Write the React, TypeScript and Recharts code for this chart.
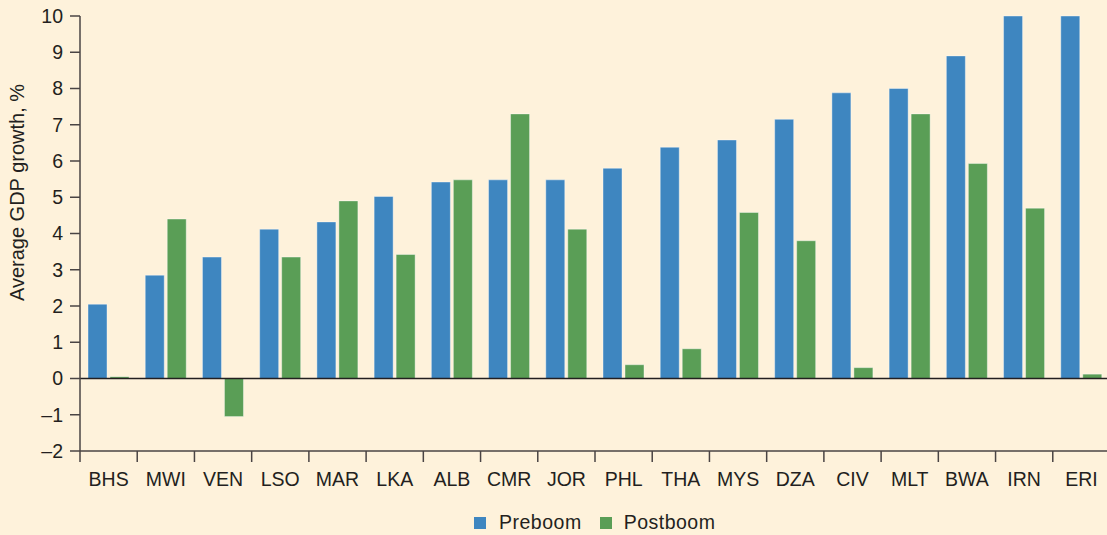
import { BarChart, Bar, XAxis, YAxis, Legend, ReferenceLine } from 'recharts';

const countries = ['BHS', 'MWI', 'VEN', 'LSO', 'MAR', 'LKA', 'ALB', 'CMR', 'JOR', 'PHL', 'THA', 'MYS', 'DZA', 'CIV', 'MLT', 'BWA', 'IRN', 'ERI'];
const preboom = [2.05, 2.85, 3.35, 4.12, 4.32, 5.02, 5.42, 5.48, 5.48, 5.8, 6.38, 6.58, 7.15, 7.88, 8.0, 8.9, 10, 10];
const postboom = [0.05, 4.4, -1.05, 3.35, 4.9, 3.42, 5.48, 7.3, 4.12, 0.38, 0.82, 4.58, 3.8, 0.3, 7.3, 5.93, 4.7, 0.12];
const yTicks = [-2, -1, 0, 1, 2, 3, 4, 5, 6, 7, 8, 9, 10];

const BLUE = '#3e86c0';
const GREEN = '#5a9e56';
const TEXT = '#231f20';
const AXIS = '#4a4444';
const FONT = '"Liberation Sans", Arial, Helvetica, sans-serif';

const data = countries.map((c, i) => ({ name: c, pre: preboom[i], post: postboom[i] }));

const CategoryTick = ({ x, y, payload }: any) => {
  const half = payload.offset ?? 0;
  return (
    <g>
      <line x1={x - half} x2={x - half} y1={y} y2={y + 11} stroke={AXIS} strokeWidth={1.5} />
      <text x={x} y={y + 35} textAnchor="middle" fill={TEXT} fontSize={19.5} fontFamily={FONT}>
        {payload.value}
      </text>
    </g>
  );
};

const LegendContent = () => (
  <div style={{ display: 'flex', alignItems: 'center', paddingLeft: 474, fontFamily: FONT, fontSize: 19.5, color: TEXT }}>
    <span style={{ width: 12, height: 12, background: BLUE, display: 'inline-block' }} />
    <span style={{ marginLeft: 13, letterSpacing: 0.5 }}>Preboom</span>
    <span style={{ width: 12, height: 12, background: GREEN, display: 'inline-block', marginLeft: 18 }} />
    <span style={{ marginLeft: 12, letterSpacing: 0.5 }}>Postboom</span>
  </div>
);

export default function App() {
  return (
    <div style={{ position: 'absolute', left: 0, top: 0, width: 1107, height: 535, overflow: 'hidden', background: '#fef2db' }}>
      <BarChart
        width={1120}
        height={535}
        data={data}
        margin={{ top: 16, right: 10, left: 0, bottom: 0 }}
        barCategoryGap="14%"
        barGap={3}
      >
        <XAxis
          dataKey="name"
          height={60}
          axisLine={{ stroke: AXIS, strokeWidth: 1.5 }}
          tickLine={false}
          tickSize={0}
          tickMargin={0}
          tick={<CategoryTick />}
          interval={0}
        />
        <YAxis
          width={80}
          domain={[-2, 10]}
          ticks={yTicks}
          interval={0}
          tickSize={10}
          tickMargin={7}
          axisLine={{ stroke: AXIS, strokeWidth: 1.5 }}
          tickLine={{ stroke: AXIS, strokeWidth: 1.5 }}
          tick={{ fill: TEXT, fontSize: 19.5, fontFamily: FONT }}
          tickFormatter={(v: number) => (v < 0 ? `\u2013${Math.abs(v)}` : `${v}`)}
          label={{
            value: 'Average GDP growth, %',
            angle: -90,
            position: 'insideLeft',
            dx: 12,
            dy: -41,
            style: { fill: TEXT, fontSize: 20, fontFamily: FONT, textAnchor: 'middle' },
          }}
        />
        <ReferenceLine y={0} stroke="#231f20" strokeWidth={1.5} />
        <Legend verticalAlign="bottom" height={24} wrapperStyle={{ left: 0, width: 1120 }} content={<LegendContent />} />
        <Bar dataKey="pre" name="Preboom" fill={BLUE} stroke="#ffffff" strokeOpacity={0.4} strokeWidth={1} isAnimationActive={false} />
        <Bar dataKey="post" name="Postboom" fill={GREEN} stroke="#ffffff" strokeOpacity={0.4} strokeWidth={1} isAnimationActive={false} />
      </BarChart>
    </div>
  );
}
